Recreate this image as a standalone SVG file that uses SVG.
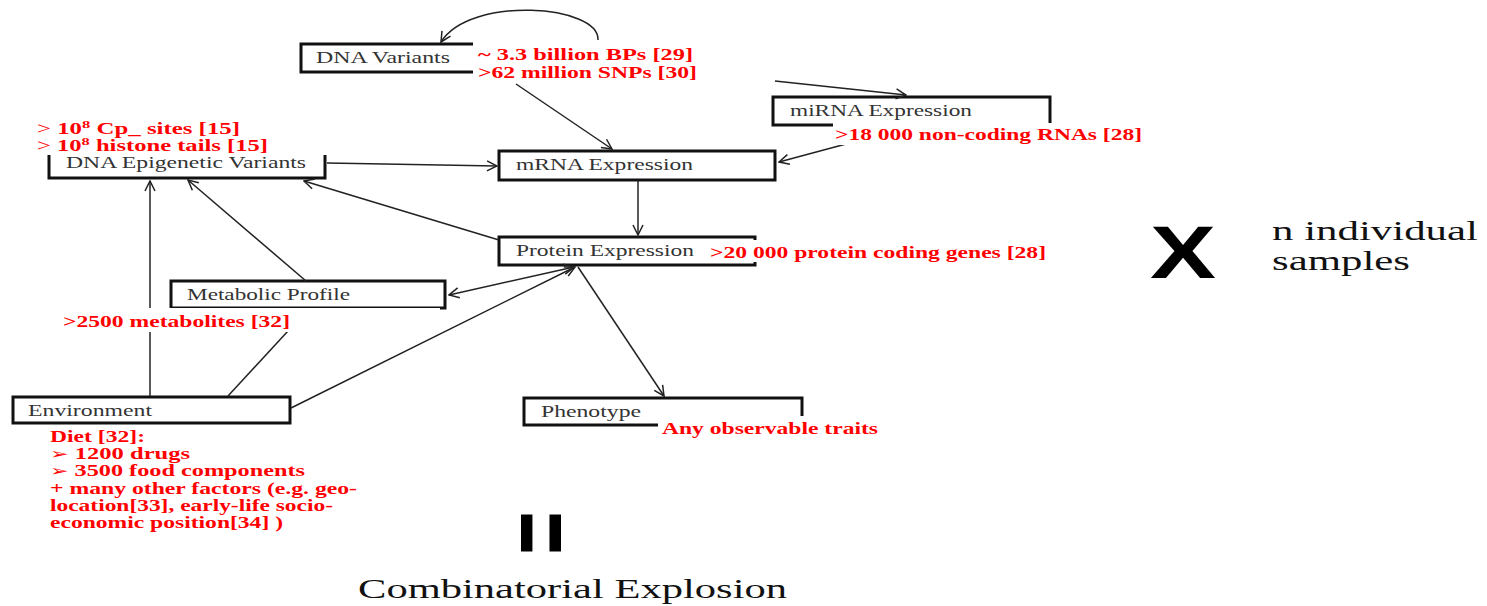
<svg xmlns="http://www.w3.org/2000/svg" width="1487" height="606" viewBox="0 0 1487 606">
<defs>
<style>
.box{fill:#fff;stroke:#111;stroke-width:3}
.lbl{font-family:"Liberation Serif","Times New Roman",serif;font-size:17px;fill:#333}
.red{font-family:"Liberation Serif","Times New Roman",serif;font-size:16.5px;font-weight:bold;fill:#ff0000}
.bg{fill:#fff}
.con{fill:none;stroke:#222;stroke-width:1.5}
.big{font-family:"Liberation Serif","Times New Roman",serif;font-size:28px;fill:#111}
.bul{font-family:"DejaVu Sans",sans-serif;font-size:15px}
</style>
<marker id="ah" viewBox="0 0 12 12" refX="11" refY="6" markerWidth="12" markerHeight="12" markerUnits="userSpaceOnUse" orient="auto-start-reverse">
<path d="M1,1 L11,6 L1,11" fill="none" stroke="#222" stroke-width="1.5"/>
</marker>
</defs>
<rect width="1487" height="606" fill="#fff"/>

<g id="node-dna-variants"><rect class="box" x="301" y="44" width="180" height="28"/><text class="lbl" x="316" y="63" textLength="134" lengthAdjust="spacingAndGlyphs">DNA Variants</text></g>
<g id="node-mirna"><rect class="box" x="773" y="97" width="277" height="28"/><text class="lbl" x="790" y="116" textLength="182" lengthAdjust="spacingAndGlyphs">miRNA Expression</text></g>
<g id="node-epigenetic"><rect class="box" x="49" y="150" width="276" height="28"/><text class="lbl" x="66" y="168" textLength="240" lengthAdjust="spacingAndGlyphs">DNA Epigenetic Variants</text></g>
<g id="node-mrna"><rect class="box" x="499" y="151" width="276" height="29"/><text class="lbl" x="516" y="170" textLength="177" lengthAdjust="spacingAndGlyphs">mRNA Expression</text></g>
<g id="node-protein"><rect class="box" x="499" y="237" width="256" height="28"/><text class="lbl" x="516" y="256" textLength="178" lengthAdjust="spacingAndGlyphs">Protein Expression</text></g>
<g id="node-metabolic"><rect class="box" x="171" y="281" width="274" height="27"/><text class="lbl" x="187" y="300" textLength="163" lengthAdjust="spacingAndGlyphs">Metabolic Profile</text></g>
<g id="node-environment"><rect class="box" x="13" y="397" width="277" height="26"/><text class="lbl" x="28" y="416" textLength="124" lengthAdjust="spacingAndGlyphs">Environment</text></g>
<g id="node-phenotype"><rect class="box" x="524" y="398" width="278" height="27"/><text class="lbl" x="541" y="417" textLength="100" lengthAdjust="spacingAndGlyphs">Phenotype</text></g>

<g id="connectors">
<path class="con" d="M598,40 C600,5 470,-5 441,42" marker-end="url(#ah)"/>
<line class="con" x1="516" y1="84" x2="612" y2="149" marker-end="url(#ah)"/>
<line class="con" x1="775" y1="81" x2="906" y2="95" marker-end="url(#ah)"/>
<line class="con" x1="846" y1="144" x2="779" y2="162" marker-end="url(#ah)"/>
<line class="con" x1="327" y1="163" x2="497" y2="166" marker-end="url(#ah)"/>
<line class="con" x1="638" y1="181" x2="638" y2="235" marker-end="url(#ah)"/>
<line class="con" x1="499" y1="240" x2="304" y2="181" marker-end="url(#ah)"/>
<line class="con" x1="306" y1="281" x2="188" y2="180" marker-end="url(#ah)"/>
<line class="con" x1="150" y1="396" x2="150" y2="181" marker-end="url(#ah)"/>
<line class="con" x1="228" y1="396" x2="288" y2="331"/>
<line class="con" x1="574" y1="267" x2="449" y2="295" marker-start="url(#ah)" marker-end="url(#ah)"/>
<line class="con" x1="291" y1="408" x2="575" y2="267" marker-end="url(#ah)"/>
<line class="con" x1="578" y1="267" x2="664" y2="396" marker-end="url(#ah)"/>
</g>

<g id="annotations">
<rect class="bg" x="473" y="42" width="230" height="40"/>
<text class="red" x="478" y="60" textLength="215" lengthAdjust="spacingAndGlyphs">~ 3.3 billion  BPs  [29]</text>
<text class="red" x="478" y="78" textLength="219" lengthAdjust="spacingAndGlyphs">&gt;62 million  SNPs [30]</text>

<rect class="bg" x="833" y="123" width="315" height="22"/>
<text class="red" x="835" y="140" textLength="307" lengthAdjust="spacingAndGlyphs">&gt;18 000 non-coding RNAs [28]</text>

<rect class="bg" x="33" y="116" width="298" height="39"/>
<text class="red" x="37" y="134" textLength="203" lengthAdjust="spacingAndGlyphs"><tspan font-weight="normal">&gt;</tspan>  10<tspan font-size="11" dy="-6">8</tspan><tspan dy="6"> Cp_ sites [15]</tspan></text>
<text class="red" x="37" y="151" textLength="231" lengthAdjust="spacingAndGlyphs"><tspan font-weight="normal">&gt;</tspan>  10<tspan font-size="11" dy="-6">8</tspan><tspan dy="6"> histone tails [15]</tspan></text>

<rect class="bg" x="705" y="240" width="345" height="22"/>
<text class="red" x="710" y="258" textLength="336" lengthAdjust="spacingAndGlyphs">&gt;20 000 protein coding genes [28]</text>

<rect class="bg" x="55" y="308" width="385" height="24"/>
<text class="red" x="63" y="327" textLength="227" lengthAdjust="spacingAndGlyphs">&gt;2500 metabolites [32]</text>

<rect class="bg" x="658" y="416" width="225" height="22"/>
<text class="red" x="662" y="434" textLength="216" lengthAdjust="spacingAndGlyphs">Any observable traits</text>

<rect class="bg" x="47" y="425" width="315" height="110"/>
<text class="red" x="50" y="442" textLength="95" lengthAdjust="spacingAndGlyphs">Diet [32]:</text>
<text class="red" x="50" y="459" textLength="140" lengthAdjust="spacingAndGlyphs"><tspan class="bul">➢</tspan>  1200 drugs</text>
<text class="red" x="50" y="476" textLength="255" lengthAdjust="spacingAndGlyphs"><tspan class="bul">➢</tspan>  3500 food components</text>
<text class="red" x="50" y="494" textLength="307" lengthAdjust="spacingAndGlyphs">+ many other factors (e.g. geo-</text>
<text class="red" x="50" y="511" textLength="283" lengthAdjust="spacingAndGlyphs">location[33], early-life socio-</text>
<text class="red" x="50" y="528" textLength="233" lengthAdjust="spacingAndGlyphs">economic position[34] )</text>
</g>

<g id="multiplier">
<text x="1150" y="278" font-family="Liberation Sans, Arial, sans-serif" font-weight="bold" font-size="74" fill="#000" textLength="66" lengthAdjust="spacingAndGlyphs">X</text>
<text class="big" x="1272" y="240" textLength="206" lengthAdjust="spacingAndGlyphs">n individual</text>
<text class="big" x="1272" y="270" textLength="138" lengthAdjust="spacingAndGlyphs">samples</text>
</g>

<g id="result">
<text transform="translate(539,533) rotate(90) scale(1.05,1.5)" x="0" y="22" text-anchor="middle" font-family="Liberation Sans, Arial, sans-serif" font-weight="bold" font-size="70" fill="#000">=</text>
<text class="big" x="358" y="598" textLength="429" lengthAdjust="spacingAndGlyphs">Combinatorial Explosion</text>
</g>
</svg>
